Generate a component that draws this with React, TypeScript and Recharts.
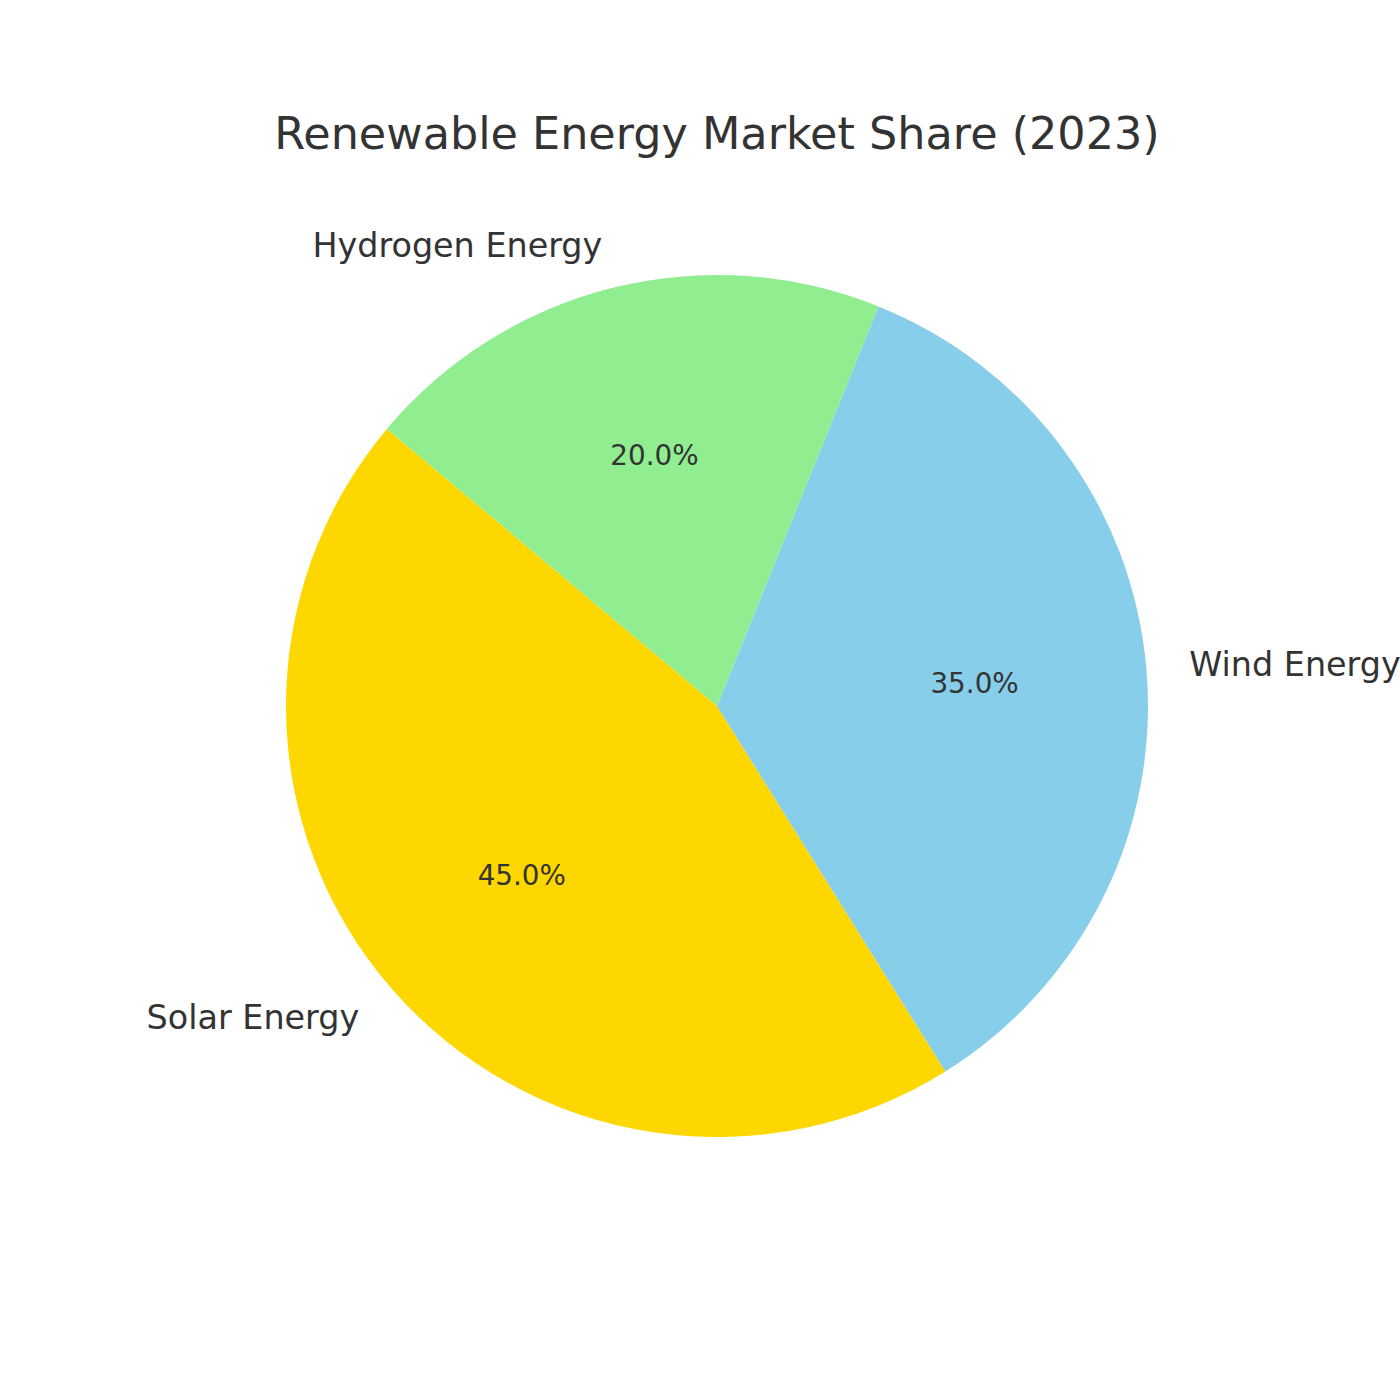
import React from 'react';
import { PieChart, Pie, Cell } from 'recharts';

const sources = ['Solar Energy', 'Wind Energy', 'Hydrogen Energy'];
const shares = [45, 35, 20];
const colors = ['#FFD700', '#87CEEB', '#90EE90'];

const data = sources.map((name, i) => ({ name, value: shares[i] }));

const RADIAN = Math.PI / 180;
const textColor = '#333333';
const font = '"DejaVu Sans", sans-serif';

const renderLabel = (props: any) => {
  const { cx, cy, midAngle, outerRadius, percent, name } = props;
  const cos = Math.cos(-midAngle * RADIAN);
  const sin = Math.sin(-midAngle * RADIAN);
  const lx = cx + outerRadius * 1.1 * cos;
  const ly = cy + outerRadius * 1.1 * sin;
  const px = cx + outerRadius * 0.6 * cos;
  const py = cy + outerRadius * 0.6 * sin;
  return (
    <g>
      <text
        x={lx}
        y={ly}
        fill={textColor}
        fontSize={33.4}
        fontFamily={font}
        textAnchor={cos >= 0 ? 'start' : 'end'}
        dominantBaseline='central'
      >
        {name}
      </text>
      <text
        x={px}
        y={py}
        fill={textColor}
        fontSize={27.8}
        fontFamily={font}
        textAnchor='middle'
        dominantBaseline='central'
      >
        {(percent * 100).toFixed(1)}%
      </text>
    </g>
  );
};

const App = () => {
  return (
    <div
      style={{
        position: 'absolute',
        top: 0,
        left: 0,
        width: 1400,
        height: 1400,
        background: '#ffffff',
      }}
    >
      <div
        style={{
          position: 'absolute',
          top: 0,
          left: 0,
          width: 1400,
          textAlign: 'center',
          fontFamily: font,
          fontSize: 44.5,
          color: textColor,
          lineHeight: '1',
          paddingTop: 112,
          paddingLeft: 34,
          boxSizing: 'border-box',
        }}
      >
        Renewable Energy Market Share (2023)
      </div>
      <PieChart width={1400} height={1400} margin={{ top: 0, right: 0, bottom: 0, left: 0 }}>
        <Pie
          data={data}
          dataKey='value'
          nameKey='name'
          cx={717}
          cy={706}
          outerRadius={431}
          startAngle={140}
          endAngle={500}
          stroke='none'
          label={renderLabel}
          labelLine={false}
          isAnimationActive={false}
        >
          {data.map((d, i) => (
            <Cell key={d.name} fill={colors[i]} />
          ))}
        </Pie>
      </PieChart>
    </div>
  );
};

export default App;
